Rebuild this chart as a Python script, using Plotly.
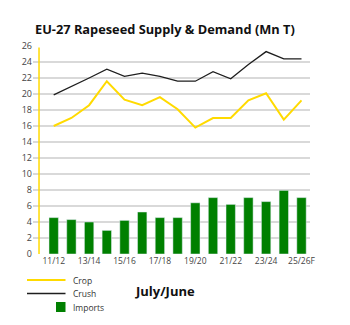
import plotly.graph_objects as go

seasons = ["11/12", "12/13", "13/14", "14/15", "15/16", "16/17", "17/18", "18/19",
           "19/20", "20/21", "21/22", "22/23", "23/24", "24/25", "25/26F"]
crop = [16.0, 17.0, 18.6, 21.6, 19.3, 18.6, 19.6, 18.1, 15.8, 17.0, 17.0, 19.2, 20.1, 16.8, 19.2]
crush = [19.9, 20.9, 22.0, 23.1, 22.2, 22.6, 22.2, 21.6, 21.6, 22.8, 21.9, 23.7, 25.3, 24.4, 24.4]
imports = [4.55, 4.3, 4.0, 2.95, 4.2, 5.25, 4.55, 4.55, 6.4, 7.05, 6.2, 7.05, 6.55, 7.95, 7.05]
y_ticks = list(range(0, 27, 2))

YELLOW = "#FFDA00"
BLACK = "#1e1e1e"
GREEN = "#008000"
FONT = "Open Sans"

fig = go.Figure()
fig.add_trace(go.Bar(x=seasons, y=imports, marker_color=GREEN, width=0.53, name="Imports"))
fig.add_trace(go.Scatter(x=seasons, y=crop, mode="lines", line=dict(color=YELLOW, width=2), name="Crop"))
fig.add_trace(go.Scatter(x=seasons, y=crush, mode="lines", line=dict(color=BLACK, width=1.3), name="Crush"))

W, H = 350, 325
L, R, T, B = 33, 40, 46, 71
pw, ph = W - L - R, H - T - B

def px(x):
    return (x - L) / pw

def py(y):
    return (H - B - y) / ph

fig.update_layout(
    width=W, height=H,
    margin=dict(l=L, r=R, t=T, b=B),
    paper_bgcolor="white", plot_bgcolor="white",
    showlegend=False,
    font=dict(family=FONT, size=9, color="#444"),
    xaxis=dict(type="category", range=[-1.17, 14.48], tickmode="array",
               tickvals=seasons[::2], ticktext=seasons[::2], showgrid=False,
               showline=False, zeroline=False, tickfont=dict(size=8.5, color="#444")),
    yaxis=dict(range=[0, 26], tickvals=y_ticks, showgrid=True, gridcolor="#d9d9d9",
               gridwidth=1.6, zeroline=False, showline=False, ticks="",
               tickfont=dict(size=9, color="#444")),
    bargap=0.47,
)

# yellow vertical axis line
fig.add_shape(type="line", xref="x", yref="y", x0=-0.83, x1=-0.83, y0=0, y1=25.8,
              line=dict(color=YELLOW, width=1.5))

# title
fig.add_annotation(text="<b>EU-27 Rapeseed Supply &amp; Demand (Mn T)</b>", xref="paper", yref="paper",
                   x=px(33), y=py(29), xanchor="left", yanchor="middle", showarrow=False,
                   font=dict(family=FONT, size=12.8, color="#111"))

# manual legend
fig.add_shape(type="line", xref="paper", yref="paper", x0=px(27), x1=px(65.5), y0=py(280), y1=py(280),
              line=dict(color=YELLOW, width=2))
fig.add_shape(type="line", xref="paper", yref="paper", x0=px(27), x1=px(65.5), y0=py(293.5), y1=py(293.5),
              line=dict(color=BLACK, width=1.5))
fig.add_shape(type="rect", xref="paper", yref="paper", x0=px(56), x1=px(65.5), y0=py(302), y1=py(312),
              fillcolor=GREEN, line=dict(width=0))
for label, yy in [("Crop", 280), ("Crush", 293.5), ("Imports", 307)]:
    fig.add_annotation(text=label, xref="paper", yref="paper", x=px(71), y=py(yy),
                       xanchor="left", yanchor="middle", showarrow=False,
                       font=dict(family=FONT, size=8.5, color="#333"))

fig.add_annotation(text="<b>July/June</b>", xref="paper", yref="paper", x=px(133), y=py(291),
                   xanchor="left", yanchor="middle", showarrow=False,
                   font=dict(family=FONT, size=13, color="#111"))

fig.write_html("out.html")
